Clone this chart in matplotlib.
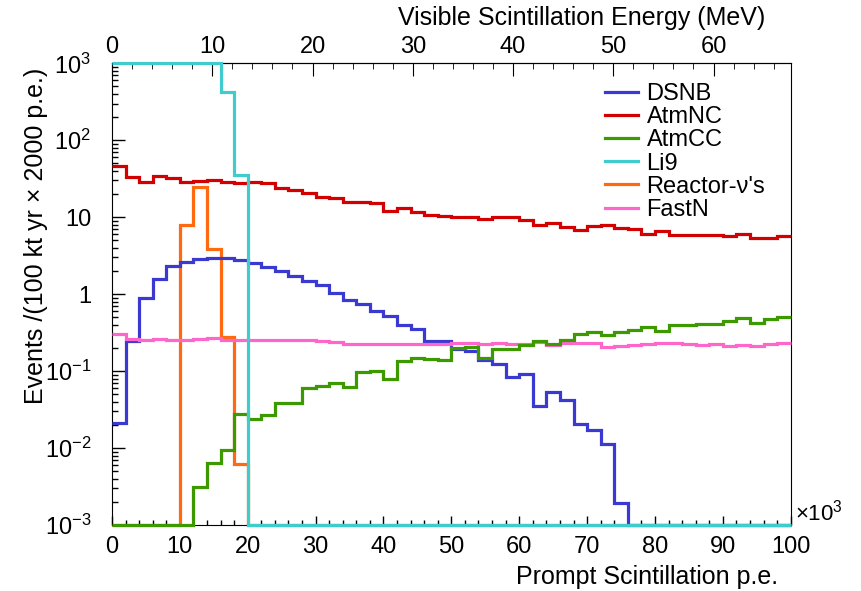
import numpy as np
import matplotlib
matplotlib.use("Agg")
import matplotlib.pyplot as plt
from matplotlib.ticker import MultipleLocator, FixedLocator, FixedFormatter, LogLocator, NullFormatter

plt.rcParams['font.family'] = ['Liberation Sans', 'DejaVu Sans']
plt.rcParams['mathtext.fontset'] = 'custom'
plt.rcParams['mathtext.rm'] = 'Liberation Sans'
plt.rcParams['mathtext.it'] = 'Liberation Sans:italic'

# bin edges in units of 10^3 prompt p.e. (2000 p.e. per bin)
edges = np.arange(0, 102, 2)

dsnb = [0.021, 0.248, 0.88, 1.56, 2.34, 2.62, 2.86, 2.98, 2.93, 2.75,
        2.52, 2.28, 2.0, 1.74, 1.50, 1.31, 1.05, 0.84, 0.74, 0.60,
        0.525, 0.40, 0.35, 0.244, 0.248, 0.195, 0.182, 0.139, 0.125, 0.085,
        0.091, 0.0355, 0.054, 0.042, 0.0207, 0.017, 0.0113, 0.00195, 0, 0,
        0, 0, 0, 0, 0, 0, 0, 0, 0, 0]
atmnc = [46.7, 33.6, 28.9, 34.3, 32.3, 28.4, 29.5, 30.1, 28.4, 28.1,
         28.9, 27.6, 24.2, 22.6, 20.4, 18.5, 17.6, 15.6, 15.6, 15.3,
         12.2, 13.0, 11.7, 10.8, 10.4, 10.1, 10.1, 9.4, 10.1, 10.1,
         9.2, 7.9, 8.5, 7.4, 6.9, 7.7, 8.0, 7.2, 7.0, 6.0,
         6.6, 5.8, 5.8, 5.9, 5.9, 5.7, 6.0, 5.3, 5.3, 5.7]
atmcc = [0, 0, 0, 0, 0, 0, 0.00315, 0.0063, 0.0094, 0.0275,
         0.0236, 0.0268, 0.038, 0.038, 0.061, 0.064, 0.071, 0.063, 0.097, 0.099,
         0.078, 0.136, 0.147, 0.144, 0.138, 0.198, 0.207, 0.147, 0.196, 0.196,
         0.216, 0.248, 0.225, 0.257, 0.305, 0.32, 0.295, 0.319, 0.342, 0.371,
         0.335, 0.397, 0.397, 0.409, 0.409, 0.452, 0.485, 0.418, 0.471, 0.509]
li9 = [1000, 1000, 1000, 1000, 1000, 1000, 1000, 1000, 428, 35,
       0, 0, 0, 0, 0, 0, 0, 0, 0, 0,
       0, 0, 0, 0, 0, 0, 0, 0, 0, 0,
       0, 0, 0, 0, 0, 0, 0, 0, 0, 0,
       0, 0, 0, 0, 0, 0, 0, 0, 0, 0]
reactor = [0, 0, 0, 0, 0, 8.0, 24.8, 3.85, 0.28, 0.0062,
           0, 0, 0, 0, 0, 0, 0, 0, 0, 0,
           0, 0, 0, 0, 0, 0, 0, 0, 0, 0,
           0, 0, 0, 0, 0, 0, 0, 0, 0, 0,
           0, 0, 0, 0, 0, 0, 0, 0, 0, 0]
fastn = [0.303, 0.261, 0.254, 0.264, 0.251, 0.254, 0.264, 0.266, 0.254, 0.254,
         0.257, 0.254, 0.251, 0.251, 0.254, 0.248, 0.241, 0.226, 0.226, 0.227,
         0.227, 0.227, 0.227, 0.226, 0.228, 0.230, 0.230, 0.227, 0.230, 0.227,
         0.225, 0.241, 0.218, 0.234, 0.230, 0.230, 0.207, 0.214, 0.218, 0.225,
         0.230, 0.230, 0.227, 0.218, 0.227, 0.214, 0.218, 0.214, 0.227, 0.230]

labels = ['DSNB', 'AtmNC', 'AtmCC', 'Li9', "Reactor-ν's", 'FastN']
colors = ['#3a3ad2', '#d20000', '#3c9a00', '#40cccc', '#ff6a10', '#ff66cc']
series = [dsnb, atmnc, atmcc, li9, reactor, fastn]
zorders = [3, 3, 4, 5, 2, 3]

# p.e. (x10^3) -> MeV
MEV_PER_KPE = 0.677

fig = plt.figure(figsize=(8.62, 5.91), dpi=100)
ax = fig.add_axes([112 / 862, 1 - 525 / 591, (790.7 - 112) / 862, (525 - 63.3) / 591])

for vals, col, lab, z in zip(series, colors, labels, zorders):
    v = np.clip(np.array(vals, dtype=float), 1e-3, 1e3)
    ax.stairs(v, edges, color=col, lw=2.3, label=lab, baseline=None,
              clip_on=False, zorder=z)

ax.set_xlim(0, 100)
ax.set_yscale('log')
ax.set_ylim(1e-3, 1e3)

ax.xaxis.set_major_locator(MultipleLocator(10))
ax.xaxis.set_minor_locator(MultipleLocator(2))
ax.yaxis.set_major_locator(FixedLocator([1e-3, 1e-2, 1e-1, 1, 10, 100, 1000]))
ax.yaxis.set_major_formatter(FixedFormatter(['$10^{-3}$', '$10^{-2}$', '$10^{-1}$',
                                             '1', '10', '$10^{2}$', '$10^{3}$']))
ax.yaxis.set_minor_locator(LogLocator(base=10, subs=np.arange(2, 10)))
ax.yaxis.set_minor_formatter(NullFormatter())

ax.tick_params(axis='both', which='both', direction='in', top=False, right=False,
               labelsize=17, width=1)
ax.tick_params(axis='x', which='major', length=6.5, pad=8)
ax.tick_params(axis='x', which='minor', length=3.3)
ax.tick_params(axis='y', which='major', length=9.5, pad=15)
ax.tick_params(axis='y', which='minor', length=4.5)

secax = ax.secondary_xaxis('top', functions=(lambda x: x * MEV_PER_KPE,
                                             lambda m: m / MEV_PER_KPE))
secax.xaxis.set_major_locator(MultipleLocator(10))
secax.xaxis.set_minor_locator(MultipleLocator(2))
secax.tick_params(axis='x', which='both', direction='in', labelsize=17, pad=4)
secax.tick_params(axis='x', which='major', length=9)
secax.tick_params(axis='x', which='minor', length=4.5)

fig.text(778 / 862, 1 - 577 / 591, 'Prompt Scintillation p.e.', ha='right', va='center', fontsize=18)
fig.text(765 / 862, 1 - 18 / 591, 'Visible Scintillation Energy (MeV)', ha='right', va='center', fontsize=18)
fig.text(36 / 862, 1 - 68 / 591, 'Events /(100 kt yr × 2000 p.e.)', rotation=90,
         ha='center', va='top', fontsize=18)
fig.text(795 / 862, 1 - 513 / 591, '×10$^{3}$', ha='left', va='center', fontsize=16)

ax.legend(loc='upper left', bbox_to_anchor=(605 / 862, 1 - 83 / 591),
          bbox_transform=fig.transFigure, frameon=False, fontsize=17,
          handlelength=1.4, handletextpad=0.36, labelspacing=0.05,
          borderpad=0, borderaxespad=0)

fig.savefig('out.png', dpi=100)
